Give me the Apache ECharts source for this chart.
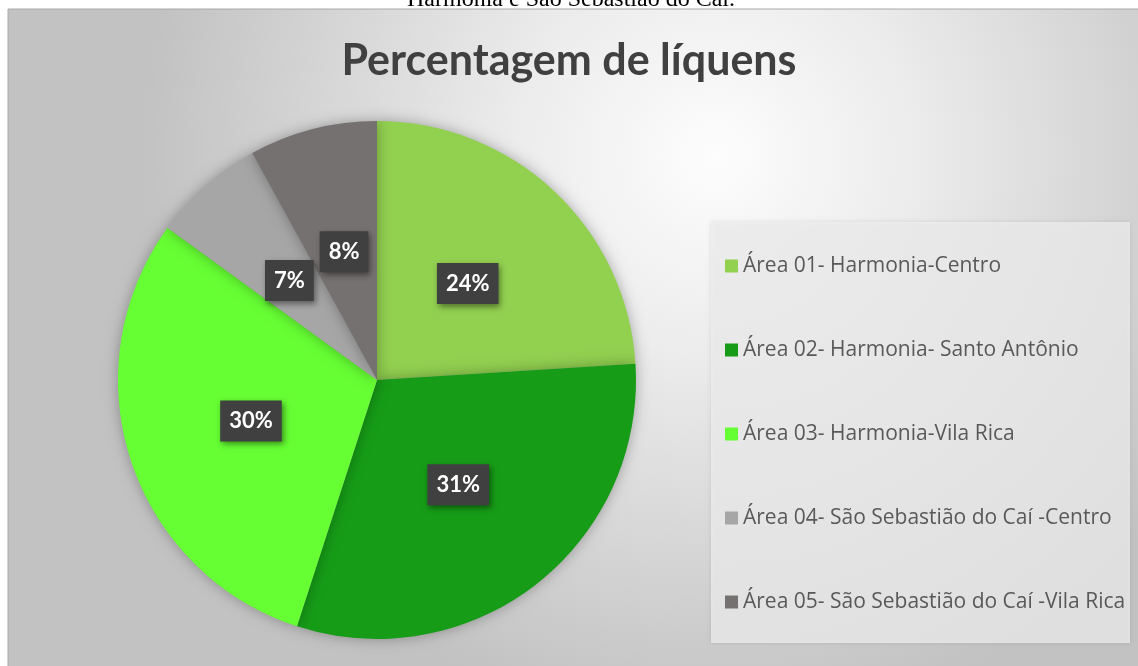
<!DOCTYPE html>
<html><head><meta charset="utf-8">
<script src="https://cdn.jsdelivr.net/npm/echarts@6/dist/echarts.min.js"></script>
<style>html,body{margin:0;padding:0;background:#fff;overflow:hidden}#c{width:1138px;height:666px}</style>
</head><body><div id="c"></div>
<script>
const categories = [
  'Área 01- Harmonia-Centro',
  'Área 02- Harmonia- Santo Antônio',
  'Área 03- Harmonia-Vila Rica',
  'Área 04- São Sebastião do Caí -Centro',
  'Área 05- São Sebastião do Caí -Vila Rica'
];
const values = [24, 31, 30, 7, 8];
const palette = ['#92D050', '#169C17', '#66FF33', '#A6A6A6', '#767171'];
const titleText = 'Percentagem de líquens';
const captionText = 'Harmonia e São Sebastião do Caí.';

const chart = echarts.init(document.getElementById('c'), null, {renderer: 'canvas'});
chart.setOption({
  animation: false,
  color: palette,
  graphic: [
    {
      type: 'rect', z: -10, silent: true,
      shape: {x: 8, y: 9, width: 1140, height: 670},
      style: {
        fill: {
          type: 'radial', x: 0.62, y: 0.22, r: 0.85,
          colorStops: [
            {offset: 0, color: '#fdfdfd'},
            {offset: 0.35, color: '#ececec'},
            {offset: 1, color: '#c2c2c2'}
          ]
        },
        stroke: '#a8a8a8', lineWidth: 1
      }
    },
    {
      type: 'rect', z: -5, silent: true,
      shape: {x: 711, y: 222, width: 419, height: 421},
      style: {fill: 'rgba(240,240,240,0.75)', shadowBlur: 4, shadowColor: 'rgba(0,0,0,0.15)'}
    },
    {
      type: 'text', silent: true, z: -20,
      x: 571, y: 12,
      style: {
        text: captionText, font: '24px "Liberation Serif"', fill: '#000',
        align: 'center', verticalAlign: 'bottom'
      }
    }
  ],
  title: {
    text: titleText, left: 'center', top: 35,
    textStyle: {fontFamily: 'Lato', fontWeight: 'bold', fontSize: 43, color: '#404040'}
  },
  legend: {
    orient: 'vertical', left: 720, top: 250,
    itemWidth: 13, itemHeight: 13, itemGap: 62,
    icon: 'rect', selectedMode: false,
    textStyle: {fontFamily: 'Open Sans', fontSize: 21, color: '#595959', lineHeight: 22},
    data: categories
  },
  series: [{
    type: 'pie',
    center: [377, 380], radius: 259,
    startAngle: 90, clockwise: true,
    silent: true,
    itemStyle: {shadowBlur: 14, shadowColor: 'rgba(0,0,0,0.3)'},
    label: {
      show: true, position: 'inside',
      formatter: '{c}%',
      color: '#fff', fontFamily: 'Lato', fontWeight: 'bold', fontSize: 22,
      backgroundColor: '#404040', padding: [10, 9, 9, 9],
      shadowBlur: 6, shadowColor: 'rgba(0,0,0,0.45)', shadowOffsetX: 2, shadowOffsetY: 3
    },
    labelLine: {show: false},
    data: categories.map((n, i) => ({name: n, value: values[i]}))
  }]
});
</script></body></html>
